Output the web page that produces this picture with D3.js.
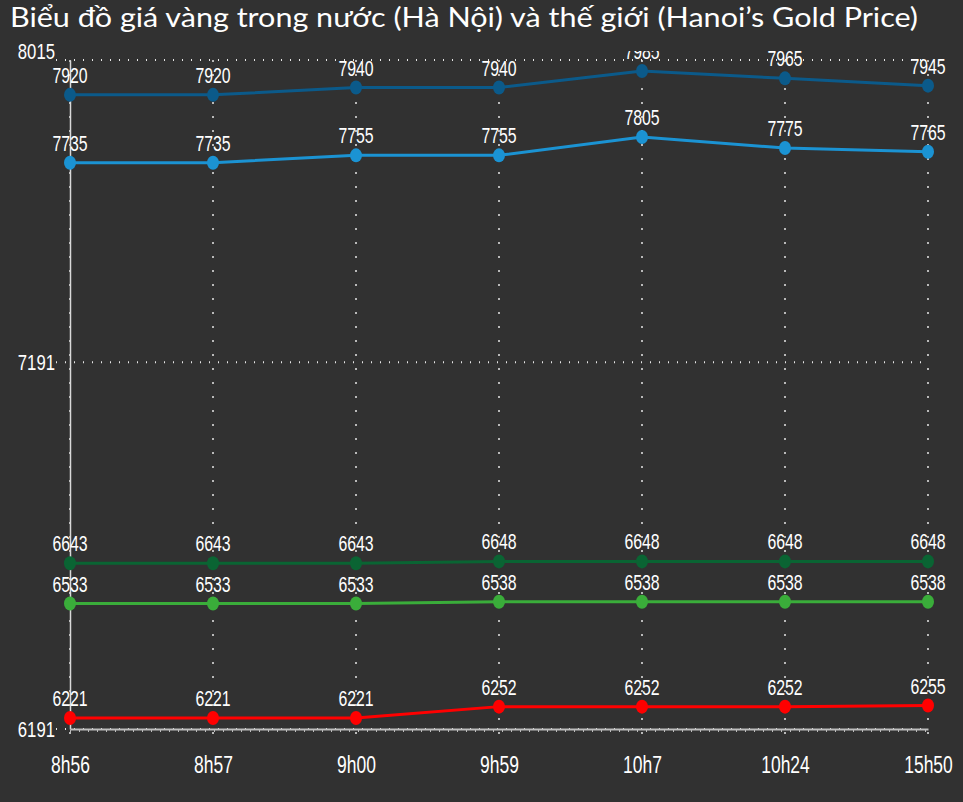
<!DOCTYPE html>
<html><head><meta charset="utf-8">
<script src="https://cdn.jsdelivr.net/npm/d3@7"></script>
<style>
html,body{margin:0;padding:0;background:#313131;}
svg{display:block;}
</style></head>
<body>
<svg id="chart" width="963" height="802"></svg>
<script>
const title = "Biểu đồ giá vàng trong nước (Hà Nội) và thế giới (Hanoi’s Gold Price)";
const categories = ["8h56","8h57","9h00","9h59","10h7","10h24","15h50"];
const series1 = [7920,7920,7940,7940,7985,7965,7945];
const series2 = [7735,7735,7755,7755,7805,7775,7765];
const series3 = [6643,6643,6643,6648,6648,6648,6648];
const series4 = [6533,6533,6533,6538,6538,6538,6538];
const series5 = [6221,6221,6221,6252,6252,6252,6255];
const yTicks = [6191,7191,8015];
const colors = ["#0b5a8a","#1b93d3","#0a6433","#3aad3a","#ff0000"];
const allSeries = [series1,series2,series3,series4,series5];

(function(){
const svg = d3.select("#chart");
const W = 963, H = 802;
svg.append("rect").attr("width",W).attr("height",H).attr("fill","#313131");

const mLeft = 70, mRight = 928, mTop = 60, mBottom = 729;
const x = d3.scalePoint().domain(categories).range([mLeft,mRight]);
const y = d3.scaleLinear().domain([6191,8015]).range([mBottom,mTop]);

const numFont = "'Liberation Sans',Arial,sans-serif";
function narrow(sel, k){
  sel.each(function(){
    const L = this.getComputedTextLength();
    d3.select(this).attr("textLength", L*k).attr("lengthAdjust","spacingAndGlyphs");
  });
}

svg.append("text").attr("x",10).attr("y",27)
  .attr("fill","#ffffff").attr("font-family","Lato, 'Noto Sans', sans-serif")
  .attr("font-size",27).attr("textLength",908).attr("lengthAdjust","spacingAndGlyphs")
  .text(title);

svg.append("g").selectAll("line").data(yTicks).join("line")
  .attr("x1",mLeft-14).attr("x2",mRight)
  .attr("y1",d=>y(d)).attr("y2",d=>y(d))
  .attr("stroke","#e6e6e6").attr("stroke-width",2).attr("stroke-dasharray","1,8");

svg.append("g").selectAll("line").data(categories).join("line")
  .attr("x1",d=>x(d)).attr("x2",d=>x(d))
  .attr("y1",mTop).attr("y2",mBottom+16)
  .attr("stroke","#e6e6e6").attr("stroke-width",1.5).attr("stroke-dasharray","2,12");

const yAxis = d3.axisLeft(y).tickValues(yTicks).tickSize(0).tickPadding(15).tickFormat(d3.format("d"));
const gy = svg.append("g").attr("transform",`translate(${mLeft},0)`).call(yAxis);
gy.select(".domain").attr("stroke","#d8d8d8").attr("stroke-width",1.5);
gy.selectAll("text").attr("fill","#ffffff").attr("font-family",numFont).attr("font-size",22).call(narrow,0.76);
gy.selectAll(".tick").filter(d=>d===8015).select("text").attr("dy","-0.05em");

const xAxis = d3.axisBottom(x).tickSize(0).tickPadding(28);
const gx = svg.append("g").attr("transform",`translate(0,${mBottom})`).call(xAxis);
gx.select(".domain").attr("stroke","#bdbdbd").attr("stroke-width",2);
gx.selectAll("text").attr("fill","#ffffff").attr("font-family",numFont).attr("font-size",23).call(narrow,0.76);
svg.append("line").attr("x1",mLeft).attr("x2",mRight).attr("y1",mBottom+2).attr("y2",mBottom+2)
  .attr("stroke","#bdbdbd").attr("stroke-width",2).attr("stroke-dasharray","1,8");

svg.append("clipPath").attr("id","clip").append("rect")
  .attr("x",0).attr("y",51).attr("width",W).attr("height",H-51);

const plot = svg.append("g").attr("clip-path","url(#clip)");
const line = d3.line().x((d,i)=>x(categories[i])).y(d=>y(d));

allSeries.forEach((s,k)=>{
  const g = plot.append("g");
  g.append("path").datum(s).attr("d",line).attr("fill","none")
    .attr("stroke",colors[k]).attr("stroke-width",3);
  g.selectAll("ellipse").data(s).join("ellipse")
    .attr("cx",(d,i)=>x(categories[i])).attr("cy",d=>y(d))
    .attr("rx",6).attr("ry",7).attr("fill",colors[k]);
  g.selectAll("text").data(s).join("text")
    .attr("x",(d,i)=>x(categories[i])).attr("y",d=>y(d)-12)
    .attr("text-anchor","middle").attr("fill","#ffffff")
    .attr("font-family",numFont).attr("font-size",22)
    .text(d=>d).call(narrow,0.72);
});
})();
</script>
</body></html>
